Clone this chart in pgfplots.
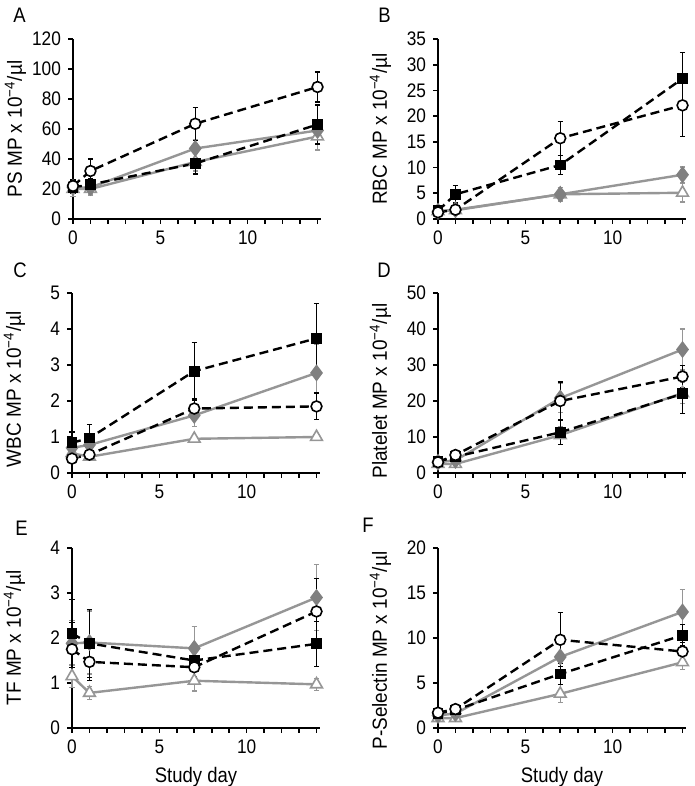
\documentclass[border=0pt]{standalone}
\usepackage{fontspec}
\setmainfont{Liberation Sans}[FakeStretch=0.88]
\newfontfamily\labfont{Liberation Sans}[FakeStretch=0.93]
\usepackage{pgfplots}
\pgfplotsset{compat=1.18}

\definecolor{lgray}{RGB}{150,150,150}
\definecolor{dgray}{RGB}{128,128,128}

\pgfplotsset{
  panel/.style={
    scale only axis, width=124pt, height=90pt, anchor=south west,
    axis lines=left, axis line style={-, line width=1.1pt},
    tick align=outside, major tick length=2.5pt, minor tick length=2.5pt,
    every tick/.style={black, line width=0.8pt},
    xmin=0, xmax=14.2, ymin=0,
    xtick={0,5,10}, minor xtick={1,2,3,4,6,7,8,9,11,12,13,14},
    tick label style={font=\fontsize{9.8}{11}\selectfont},
    /pgf/number format/assume math mode=true,
    xlabel style={font=\fontsize{10.5}{12}\selectfont},
    ylabel style={font=\fontsize{10.2}{12}\labfont\selectfont, anchor=center},
    ylabel pos/.style={ylabel style={at={(axis description cs:-0.232,##1)}}},
    ylabel pos=0.5,
    clip=false,
  },
  ebar/.style={error bars/.cd, y dir=both, y explicit,
    error bar style={solid, line width=0.6pt, #1},
    error mark options={rotate=90, mark size=1.3pt, line width=0.6pt, solid, #1}},
  sq/.style={black, line width=1.2pt, dash pattern=on 4.5pt off 2.5pt,
    mark=square*, mark size=2.1pt, mark options={solid, fill=black}, ebar=black},
  circ/.style={black, line width=1.2pt, dash pattern=on 4.5pt off 2.5pt,
    mark=*, mark size=2.7pt, mark options={solid, fill=white, draw=black, line width=0.8pt}, ebar=black},
  diam/.style={lgray, line width=1.2pt,
    mark=diamond*, mark size=3.3pt, mark options={fill=dgray, draw=dgray}, ebar=lgray},
  tri/.style={lgray, line width=1.2pt,
    mark=triangle*, mark size=3.4pt, mark options={fill=white, draw=lgray, line width=0.8pt}, ebar=lgray},
}

\begin{document}
\begin{tikzpicture}
\useasboundingbox (0,0) rectangle (347.5pt,393pt);

% A
\begin{axis}[panel, at={(36.5pt,283.5pt)}, ymax=120, ytick={0,20,...,120},
  ylabel={PS MP x 10\textsuperscript{−4}/µl}]
\addplot[tri] coordinates {(0,20)+-(0,5) (1,20)+-(0,4) (7,38)+-(0,6) (14,55)+-(0,9)};
\addplot[diam] coordinates {(0,21)+-(0,4) (1,21)+-(0,4) (7,47)+-(0,6) (14,59)+-(0,5)};
\addplot[sq] coordinates {(0,21)+-(0,4) (1,23)+-(0,4) (7,37)+-(0,7) (14,63)+-(0,13)};
\addplot[circ] coordinates {(0,22)+-(0,4) (1,32)+-(0,8) (7,63.5)+-(0,11) (14,88)+-(0,10)};
\end{axis}

% B
\begin{axis}[panel, at={(219pt,283.5pt)}, ymax=35, ytick={0,5,...,35},
  ylabel={RBC MP x 10\textsuperscript{−4}/µl}]
\addplot[tri] coordinates {(0,1.5)+-(0,0.4) (1,1.7)+-(0,0.4) (7,4.8)+-(0,1.4) (14,5.1)+-(0,1.8)};
\addplot[diam] coordinates {(0,1.5)+-(0,0.4) (1,1.8)+-(0,0.4) (7,4.8)+-(0,1.3) (14,8.6)+-(0,1.5)};
\addplot[sq] coordinates {(0,1.6)+-(0,0.5) (1,4.8)+-(0,1.7) (7,10.5)+-(0,1.8) (14,27.3)+-(0,5)};
\addplot[circ] coordinates {(0,1.3)+-(0,0.4) (1,1.8)+-(0,0.4) (7,15.7)+-(0,3.3) (14,22.1)+-(0,6)};
\end{axis}

% C
\begin{axis}[panel, at={(36pt,156.5pt)}, ymax=5, ytick={0,1,...,5}, ylabel pos=0.465,
  ylabel={WBC MP x 10\textsuperscript{−4}/µl}]
\addplot[tri] coordinates {(0,0.55)+-(0,0.05) (1,0.45)+-(0,0.05) (7,0.95)+-(0,0.05) (14,1.0)+-(0,0.05)};
\addplot[diam] coordinates {(0,0.7)+-(0,0.1) (1,0.78)+-(0,0.15) (7,1.6)+-(0,0.3) (14,2.78)+-(0,0.8)};
\addplot[sq] coordinates {(0,0.84)+-(0,0.3) (1,0.97)+-(0,0.38) (7,2.83)+-(0,0.8) (14,3.74)+-(0,0.97)};
\addplot[circ] coordinates {(0,0.4)+-(0,0.1) (1,0.51)+-(0,0.1) (7,1.79)+-(0,0.27) (14,1.85)+-(0,0.37)};
\end{axis}

% D
\begin{axis}[panel, at={(219pt,156.5pt)}, ymax=50, ytick={0,10,...,50}, ylabel pos=0.455,
  ylabel={Platelet MP x 10\textsuperscript{−4}/µl}]
\addplot[tri] coordinates {(0,2.5)+-(0,0.5) (1,2.5)+-(0,0.6) (7,10.5)+-(0,2.5) (14,22.2)+-(0,3)};
\addplot[diam] coordinates {(0,3)+-(0,0.5) (1,3.5)+-(0,0.6) (7,20.8)+-(0,4) (14,34.3)+-(0,5.7)};
\addplot[sq] coordinates {(0,3.2)+-(0,0.5) (1,4.5)+-(0,0.7) (7,11.3)+-(0,3.3) (14,22)+-(0,5.5)};
\addplot[circ] coordinates {(0,3)+-(0,0.5) (1,5)+-(0,0.7) (7,20)+-(0,5.3) (14,26.8)+-(0,3)};
\end{axis}

% E
\begin{axis}[panel, at={(36pt,29pt)}, ymax=4, ytick={0,1,...,4},
  ylabel={TF MP x 10\textsuperscript{−4}/µl}, xlabel={Study day}]
\addplot[tri] coordinates {(0,1.15)+-(0,0.25) (1,0.78)+-(0,0.15) (7,1.05)+-(0,0.23) (14,0.97)+-(0,0.13)};
\addplot[diam] coordinates {(0,1.88)+-(0,0.5) (1,1.9)+-(0,0.7) (7,1.77)+-(0,0.48) (14,2.9)+-(0,0.73)};
\addplot[sq] coordinates {(0,2.1)+-(0,0.75) (1,1.88)+-(0,0.75) (7,1.5)+-(0,0.2) (14,1.87)+-(0,0.5)};
\addplot[circ] coordinates {(0,1.75)+-(0,0.6) (1,1.47)+-(0,0.42) (7,1.35)+-(0,0.2) (14,2.59)+-(0,0.74)};
\end{axis}

% F
\begin{axis}[panel, at={(219pt,29pt)}, ymax=20, ytick={0,5,...,20}, ylabel pos=0.43,
  ylabel={P-Selectin MP x 10\textsuperscript{−4}/µl}, xlabel={Study day}]
\addplot[tri] coordinates {(0,1.1)+-(0,0.4) (1,1.1)+-(0,0.3) (7,3.8)+-(0,1.0) (14,7.3)+-(0,0.8)};
\addplot[diam] coordinates {(0,1.4)+-(0,0.4) (1,1.6)+-(0,0.4) (7,7.9)+-(0,1.5) (14,12.9)+-(0,2.5)};
\addplot[sq] coordinates {(0,1.6)+-(0,0.4) (1,2.0)+-(0,0.4) (7,6.0)+-(0,1.2) (14,10.3)+-(0,1.2)};
\addplot[circ] coordinates {(0,1.7)+-(0,0.4) (1,2.1)+-(0,0.4) (7,9.8)+-(0,3) (14,8.5)+-(0,1)};
\end{axis}

\begin{scope}[every node/.style={anchor=west, inner sep=0pt, font=\fontsize{10.5}{12}\selectfont}]
\node at (6.5pt,385.5pt) {A};
\node at (189pt,385.5pt) {B};
\node at (6.5pt,258pt) {C};
\node at (188.5pt,258pt) {D};
\node at (7.5pt,129pt) {E};
\node at (181pt,130.5pt) {F};
\end{scope}
\end{tikzpicture}
\end{document}
